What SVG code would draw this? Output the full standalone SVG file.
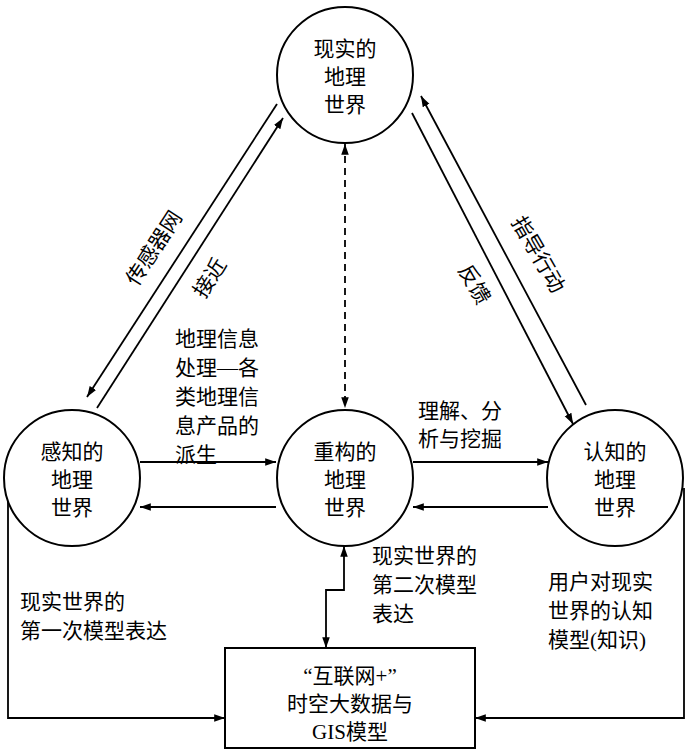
<svg xmlns="http://www.w3.org/2000/svg" width="700" height="756" viewBox="0 0 700 756">
<style>
text{font-family:"Liberation Serif","Noto Sans CJK SC",serif;font-size:21px;fill:#000}
.c{text-anchor:middle}
.n{fill:#fff;stroke:#000;stroke-width:2}
.l{fill:none;stroke:#000;stroke-width:1.8}
</style>
<defs><marker id="a" viewBox="0 0 10 10" refX="10" refY="5" markerWidth="6" markerHeight="6" orient="auto-start-reverse"><path d="M0,1.5L10,5L0,8.5z" fill="#000"/></marker></defs>
<g id="connectors">
<line class="l" x1="277" y1="104" x2="87" y2="397" marker-end="url(#a)"/>
<line class="l" x1="97" y1="408" x2="283" y2="118" marker-end="url(#a)"/>
<line class="l" x1="586" y1="405" x2="421" y2="96" marker-end="url(#a)"/>
<line class="l" x1="412" y1="113" x2="573" y2="424" marker-end="url(#a)"/>
<line class="l" x1="345" y1="144" x2="345" y2="408" stroke-dasharray="7,5" marker-start="url(#a)" marker-end="url(#a)"/>
<line class="l" x1="140" y1="462" x2="276" y2="462" marker-end="url(#a)"/>
<line class="l" x1="276" y1="507" x2="140" y2="507" marker-end="url(#a)"/>
<line class="l" x1="413" y1="462" x2="548" y2="462" marker-end="url(#a)"/>
<line class="l" x1="548" y1="507" x2="413" y2="507" marker-end="url(#a)"/>
<polyline class="l" points="344,546 344,590 326,590 326,648" marker-start="url(#a)" marker-end="url(#a)"/>
<polyline class="l" points="8,495 8,718 225,718" marker-end="url(#a)"/>
<polyline class="l" points="684,488 684,718 475,718" marker-end="url(#a)"/>
</g>
<g id="top"><circle class="n" cx="345" cy="75" r="68"/><text class="c" x="345" y="56">现实的</text><text class="c" x="345" y="84">地理</text><text class="c" x="345" y="112">世界</text></g>
<g id="left"><circle class="n" cx="72" cy="478" r="68"/><text class="c" x="72" y="459">感知的</text><text class="c" x="72" y="487">地理</text><text class="c" x="72" y="515">世界</text></g>
<g id="center"><circle class="n" cx="345" cy="478" r="68"/><text class="c" x="345" y="459">重构的</text><text class="c" x="345" y="487">地理</text><text class="c" x="345" y="515">世界</text></g>
<g id="right"><circle class="n" cx="615" cy="478" r="68"/><text class="c" x="615" y="459">认知的</text><text class="c" x="615" y="487">地理</text><text class="c" x="615" y="515">世界</text></g>
<g id="box"><rect class="n" x="225" y="648" width="250" height="100"/><text class="c" x="350" y="683">“互联网+”</text><text class="c" x="350" y="711">时空大数据与</text><text class="c" x="350" y="739">GIS模型</text></g>
<g id="labels">
<text class="c" transform="translate(160,252) rotate(-57)">传感器网</text>
<text class="c" transform="translate(216,282) rotate(-57)">接近</text>
<text class="c" transform="translate(468,288) rotate(60)">反馈</text>
<text class="c" transform="translate(532,258) rotate(60)">指导行动</text>
<text x="175" y="346">地理信息</text><text x="175" y="375">处理—各</text><text x="175" y="404">类地理信</text><text x="175" y="433">息产品的</text><text x="175" y="462">派生</text>
<text x="418" y="418">理解、分</text><text x="418" y="446">析与挖掘</text>
<text x="372" y="563">现实世界的</text><text x="372" y="592">第二次模型</text><text x="372" y="621">表达</text>
<text x="548" y="589">用户对现实</text><text x="548" y="618">世界的认知</text><text x="548" y="647">模型(知识)</text>
<text x="20" y="609">现实世界的</text><text x="20" y="638">第一次模型表达</text>
</g>
</svg>
